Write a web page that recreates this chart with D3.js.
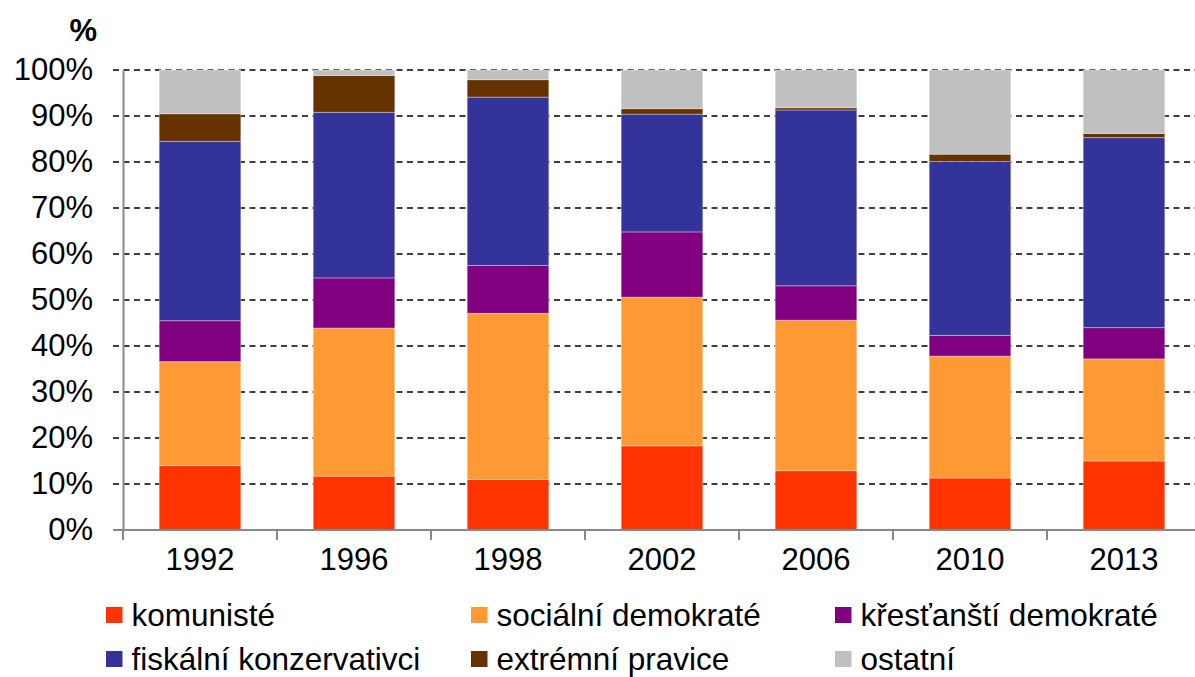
<!DOCTYPE html>
<html>
<head>
<meta charset="utf-8">
<script src="https://cdn.jsdelivr.net/npm/d3@7"></script>
<style>
html,body{margin:0;padding:0;background:#fff;}
svg{display:block;font-family:"Liberation Sans",Arial,Helvetica,sans-serif;}
</style>
</head>
<body>
<svg id="chart" width="1195" height="677"></svg>
<script>
const years = ["1992","1996","1998","2002","2006","2010","2013"];
const seriesNames = ["komunisté","sociální demokraté","křesťanští demokraté","fiskální konzervativci","extrémní pravice","ostatní"];
const seriesColors = ["#FF3300","#FF9933","#800080","#333399","#663300","#C0C0C0"];
const komuniste = [14.0, 11.7, 11.0, 18.3, 12.9, 11.3, 15.0];
const socialni = [22.6, 32.2, 36.1, 32.3, 32.7, 26.5, 22.2];
const krestanstiDem = [8.9, 10.9, 10.4, 14.2, 7.5, 4.5, 6.8];
const fiskalni = [39.0, 36.0, 36.6, 25.6, 38.2, 37.8, 41.3];
const extremni = [6.0, 8.0, 3.8, 1.2, 0.5, 1.6, 0.9];
const ostatni = [9.5, 1.2, 2.1, 8.4, 8.2, 18.3, 13.8];
const yTicks = [0,10,20,30,40,50,60,70,80,90,100];

const seriesValues = [komuniste, socialni, krestanstiDem, fiskalni, extremni, ostatni];
const rows = years.map((y,i)=>{
  const r = {year:y};
  seriesNames.forEach((s,j)=>{ r[s] = seriesValues[j][i]; });
  return r;
});

const svg = d3.select("#chart");
const x = d3.scaleBand().domain(years).range([123, 1201]).paddingInner(0.47).paddingOuter(0.235);
const y = d3.scaleLinear().domain([0,100]).range([530,70]);

// gridlines
svg.append("g").selectAll("line").data(yTicks.filter(t=>t>0)).join("line")
  .attr("x1",113).attr("x2",1195)
  .attr("y1",d=>y(d)).attr("y2",d=>y(d))
  .attr("stroke","#000").attr("stroke-width",1.5).attr("stroke-dasharray","6,4.5");

// stacked bars
const stack = d3.stack().keys(seriesNames);
const stacked = stack(rows);
svg.append("g").selectAll("g").data(stacked).join("g")
  .attr("fill",(d,i)=>seriesColors[i])
  .selectAll("rect").data(d=>d).join("rect")
  .attr("x",d=>x(d.data.year))
  .attr("width",x.bandwidth())
  .attr("y",d=>y(d[1]))
  .attr("height",d=>y(d[0])-y(d[1]))
  .attr("stroke","rgba(255,255,255,0.35)").attr("stroke-width",1);

// y axis
const yAxis = d3.axisLeft(y).tickValues(yTicks).tickFormat(d=>d+"%").tickSize(0).tickPadding(30);
const gy = svg.append("g").attr("transform","translate(123,0)").call(yAxis);
gy.select(".domain").attr("stroke","#888").attr("stroke-width",2);
gy.selectAll("text").attr("font-size",31).attr("fill","#000").attr("font-family","Liberation Sans, Arial, sans-serif");

// x axis
const xAxis = d3.axisBottom(x).tickSize(0).tickPadding(18);
const gx = svg.append("g").attr("transform","translate(0,530)").call(xAxis);
gx.select(".domain").remove();
gx.selectAll("text").attr("font-size",31).attr("fill","#000").attr("font-family","Liberation Sans, Arial, sans-serif");
svg.append("line").attr("x1",113).attr("x2",1195).attr("y1",y(0)).attr("y2",y(0))
  .attr("stroke","#888").attr("stroke-width",2);
const boundaries = years.map((v,i)=>x.range()[0]+i*x.step());
boundaries.push(x.range()[0]+years.length*x.step());
svg.append("g").selectAll("line").data(boundaries).join("line")
  .attr("x1",d=>d).attr("x2",d=>d).attr("y1",y(0)).attr("y2",y(0)+10)
  .attr("stroke","#888").attr("stroke-width",2);

// % title
svg.append("text").attr("x",97).attr("y",41).attr("text-anchor","end")
  .attr("font-size",31).attr("font-weight","bold").text("%");

// legend
const legX = [106, 471, 835];
const legY = [607, 651];
const leg = svg.append("g");
seriesNames.forEach((s,i)=>{
  const cx = legX[i%3], ry = legY[Math.floor(i/3)];
  leg.append("rect").attr("x",cx).attr("y",ry).attr("width",16.5).attr("height",16).attr("fill",seriesColors[i]);
  leg.append("text").attr("x",cx+25.5).attr("y",ry+18.5).attr("font-size",31.5).attr("fill","#000").text(s);
});
</script>
</body>
</html>
